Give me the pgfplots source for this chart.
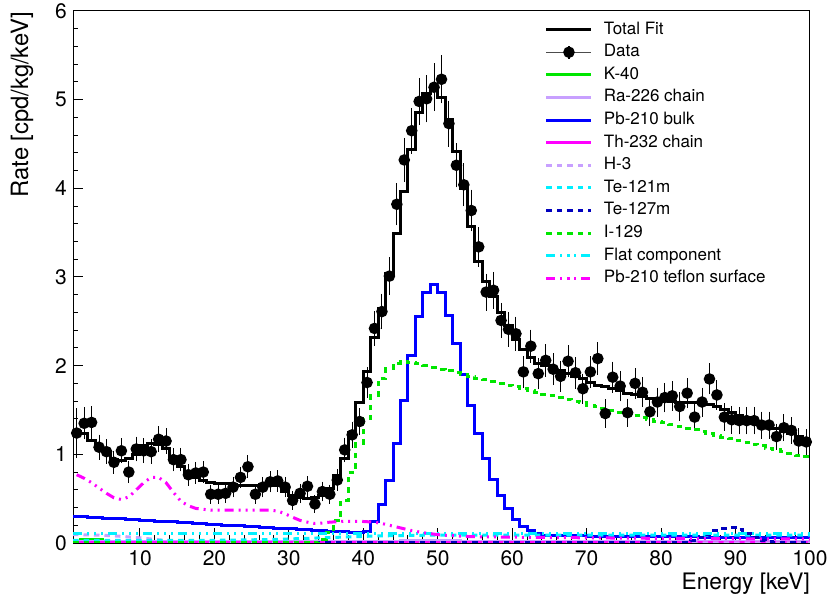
\documentclass[border=0pt]{standalone}
\usepackage{fontspec}
\setmainfont{TeX Gyre Heros}
\usepackage{pgfplots}
\usepackage{pgfplotstable}
\pgfplotsset{compat=1.18}
\definecolor{rgreen}{RGB}{0,230,0}
\definecolor{rlav}{RGB}{200,160,255}
\definecolor{rblue}{RGB}{0,0,255}
\definecolor{rnavy}{RGB}{0,0,190}
\definecolor{rmag}{RGB}{255,0,255}
\definecolor{rcyan}{RGB}{0,240,255}

\pgfplotstableread{
x y e
1.5 1.24 0.25
2.5 1.35 0.15
3.5 1.36 0.15
4.5 1.08 0.11
5.5 1.03 0.107
6.5 0.91 0.10
7.5 1.04 0.107
8.5 0.80 0.094
9.5 1.06 0.108
10.5 1.04 0.107
11.5 1.03 0.107
12.5 1.17 0.114
13.5 1.15 0.113
14.5 0.94 0.102
15.5 0.94 0.102
16.5 0.77 0.092
17.5 0.79 0.093
18.5 0.80 0.094
19.5 0.55 0.078
20.5 0.55 0.078
21.5 0.56 0.079
22.5 0.63 0.083
23.5 0.74 0.090
24.5 0.86 0.097
25.5 0.55 0.078
26.5 0.63 0.083
27.5 0.69 0.087
28.5 0.70 0.088
29.5 0.63 0.083
30.5 0.48 0.073
31.5 0.56 0.079
32.5 0.64 0.084
33.5 0.44 0.070
34.5 0.58 0.080
35.5 0.55 0.078
36.5 0.71 0.088
37.5 1.05 0.108
38.5 1.22 0.116
39.5 1.37 0.123
40.5 1.81 0.141
41.5 2.42 0.163
42.5 2.61 0.170
43.5 3.01 0.182
44.5 3.82 0.205
45.5 4.32 0.218
46.5 4.65 0.226
47.5 4.98 0.234
48.5 5.01 0.235
49.5 5.14 0.238
50.5 5.23 0.240
51.5 4.73 0.228
52.5 4.26 0.217
53.5 4.04 0.211
54.5 3.75 0.203
55.5 3.34 0.192
56.5 2.83 0.177
57.5 2.85 0.177
58.5 2.51 0.166
59.5 2.41 0.163
60.5 2.36 0.161
61.5 1.93 0.146
62.5 2.22 0.156
63.5 1.91 0.145
64.5 2.06 0.151
65.5 1.96 0.147
66.5 1.88 0.144
67.5 2.05 0.150
68.5 1.92 0.146
69.5 1.74 0.139
70.5 1.93 0.146
71.5 2.08 0.151
72.5 1.46 0.127
73.5 1.87 0.144
74.5 1.77 0.140
75.5 1.47 0.127
76.5 1.80 0.141
77.5 1.70 0.137
78.5 1.48 0.128
79.5 1.59 0.132
80.5 1.64 0.134
81.5 1.66 0.135
82.5 1.54 0.130
83.5 1.69 0.137
84.5 1.42 0.125
85.5 1.59 0.132
86.5 1.85 0.143
87.5 1.67 0.136
88.5 1.42 0.125
89.5 1.39 0.124
90.5 1.38 0.123
91.5 1.38 0.123
92.5 1.38 0.123
93.5 1.33 0.121
94.5 1.33 0.121
95.5 1.20 0.115
96.5 1.30 0.120
97.5 1.27 0.118
98.5 1.15 0.113
99.5 1.14 0.112
}\datatab

\pgfplotstableread{
x y
1 1.26
2 1.23
3 1.16
4 1.07
5 1.03
6 0.94
7 0.93
8 0.95
9 1.00
10 1.10
11 1.12
12 1.11
13 1.07
14 0.95
15 0.86
16 0.78
17 0.74
18 0.70
19 0.68
20 0.67
21 0.67
22 0.66
23 0.65
24 0.65
25 0.65
26 0.66
27 0.66
28 0.65
29 0.58
30 0.54
31 0.51
32 0.50
33 0.51
34 0.54
35 0.62
36 0.76
37 0.95
38 1.25
39 1.58
40 1.93
41 2.32
42 2.65
43 3.04
44 3.49
45 3.96
46 4.44
47 4.86
48 5.07
49 5.11
50 5.02
51 4.78
52 4.42
53 4.00
54 3.57
55 3.18
56 2.95
57 2.78
58 2.60
59 2.45
60 2.30
61 2.18
62 2.09
63 2.03
64 2.00
65 1.97
66 1.94
67 1.91
68 1.88
69 1.85
70 1.81
71 1.78
72 1.76
73 1.74
74 1.72
75 1.69
76 1.67
77 1.65
78 1.63
79 1.62
80 1.61
81 1.60
82 1.59
83 1.58
84 1.58
85 1.57
86 1.56
87 1.54
88 1.51
89 1.47
90 1.44
91 1.41
92 1.38
93 1.35
94 1.32
95 1.29
96 1.26
97 1.23
98 1.20
99 1.17
100 1.17
}\totaltab

\pgfplotstableread{
x y
1 0.300
2 0.295
3 0.290
4 0.285
5 0.281
6 0.276
7 0.271
8 0.266
9 0.261
10 0.256
11 0.251
12 0.246
13 0.242
14 0.237
15 0.232
16 0.227
17 0.222
18 0.217
19 0.212
20 0.207
21 0.203
22 0.198
23 0.193
24 0.188
25 0.183
26 0.178
27 0.173
28 0.168
29 0.164
30 0.159
31 0.154
32 0.149
33 0.144
34 0.139
35 0.134
36 0.129
37 0.125
38 0.120
39 0.118
40 0.13
41 0.24
42 0.43
43 0.71
44 1.12
45 1.61
46 2.12
47 2.55
48 2.82
49 2.92
50 2.82
51 2.57
52 2.25
53 1.90
54 1.55
55 1.23
56 0.95
57 0.72
58 0.54
59 0.39
60 0.27
61 0.19
62 0.14
63 0.11
64 0.090
65 0.085
66 0.082
67 0.080
70 0.077
75 0.074
80 0.070
85 0.067
90 0.064
95 0.062
100 0.060
}\pbbulktab

\pgfplotstableread{
x y
1 0
33 0.01
34 0.04
35 0.12
36 0.25
37 0.48
38 0.80
39 1.12
40 1.40
41 1.66
42 1.86
43 1.97
44 2.03
45 2.05
46 2.04
47 2.02
48 2.00
49 1.98
50 1.96
51 1.94
52 1.92
53 1.90
54 1.88
55 1.86
56 1.84
57 1.82
58 1.80
59 1.78
60 1.76
61 1.74
62 1.72
63 1.70
64 1.68
65 1.66
66 1.64
67 1.62
68 1.60
69 1.58
70 1.555
71 1.535
72 1.515
73 1.495
74 1.475
75 1.455
76 1.435
77 1.415
78 1.395
79 1.375
80 1.355
81 1.335
82 1.315
83 1.295
84 1.275
85 1.255
86 1.235
87 1.215
88 1.195
89 1.175
90 1.155
91 1.135
92 1.115
93 1.095
94 1.070
95 1.050
96 1.030
97 1.010
98 0.990
99 0.970
100 0.970
}\ionetab

\pgfplotstableread{
x y
1.5 0.77
2.5 0.73
3.5 0.68
4.5 0.62
5.5 0.56
6.5 0.51
7.5 0.49
8.5 0.52
9.5 0.60
10.5 0.68
11.5 0.74
12.5 0.74
13.5 0.68
14.5 0.57
15.5 0.47
16.5 0.42
17.5 0.39
18.5 0.38
19.5 0.37
22.5 0.37
25.5 0.37
27.5 0.37
28.5 0.36
29.5 0.33
30.5 0.29
31.5 0.255
32.5 0.235
33.5 0.22
34.5 0.225
35.5 0.235
36.5 0.24
37.5 0.245
39.5 0.245
40.5 0.24
41.5 0.235
42.5 0.22
43.5 0.20
44.5 0.18
45.5 0.16
46.5 0.14
47.5 0.125
48.5 0.11
49.5 0.10
50.5 0.09
51.5 0.085
52.5 0.08
53.5 0.075
54.5 0.072
55.5 0.07
60.5 0.065
70.5 0.058
80.5 0.052
90.5 0.048
100 0.045
}\teflontab

\pgfplotstableread{
x y
1 0.01
2 0.04
3 0.045
4 0.04
5 0.015
6 0.006
100 0.005
}\kfortytab

\pgfplotstableread{
x y
1 0.015
44 0.02
45 0.025
46 0.03
52 0.025
53 0.02
60 0.018
100 0.018
}\ratab

\pgfplotstableread{
x y
1 0.01
100 0.01
}\thtab

\pgfplotstableread{
x y
1 0.095
3.5 0.09
5.5 0.085
7.5 0.075
9.5 0.062
11.5 0.045
13.5 0.028
15.5 0.012
17.5 0.003
19.5 0
100 0
}\hthreetab

\pgfplotstableread{
x y
1 0.03
20 0.03
28 0.04
35 0.06
42 0.08
50 0.09
100 0.09
}\tetwotab

\pgfplotstableread{
x y
1 0.01
84 0.03
85 0.06
86 0.10
87 0.14
88 0.16
89 0.17
90 0.15
91 0.11
92 0.06
93 0.03
94 0.015
95 0.01
100 0.01
}\tesevtab

\pgfplotstableread{
x y
1 0.11
100 0.11
}\flattab

\pgfplotsset{datalegend/.style={legend image code/.code={%
    \draw[black!70, line width=1.2bp] (0bp,0bp) -- (45bp,0bp);
    \draw[black, line width=1.2bp] (22.5bp,-6.5bp) -- (22.5bp,6.5bp);
    \draw[##1] plot coordinates {(22.5bp,0bp)};}}}

\begin{document}
\begin{tikzpicture}
\begin{axis}[
  at={(73bp,56bp)}, anchor=south west,
  scale only axis, width=737bp, height=532bp,
  xmin=1, xmax=100, ymin=0, ymax=6,
  xtick={10,20,...,100}, ytick={0,1,...,6},
  minor x tick num=4, minor y tick num=4,
  xtick pos=left, ytick pos=left,
  tick align=inside,
  major tick length=15bp, minor tick length=7.5bp,
  ytick style={/pgfplots/major tick length=10.5bp, /pgfplots/minor tick length=5.5bp},
  every tick/.style={black, line width=1bp},
  axis line style={line width=1bp},
  /pgf/number format/assume math mode=true,
  tick label style={font=\fontsize{21bp}{21bp}\selectfont},
  xticklabel style={anchor=north, inner sep=0pt, yshift=-7bp},
  yticklabel style={anchor=east, inner sep=0pt, xshift=-6bp},
  xlabel={Energy [keV]},
  ylabel={Rate [cpd/kg/keV]},
  x label style={at={(axis description cs:1,0)}, anchor=base east, inner sep=0pt, yshift=-46bp, font=\fontsize{22.7bp}{24bp}\selectfont},
  y label style={at={(axis description cs:0,1)}, anchor=east, inner sep=0pt, xshift=-1bp, yshift=51bp, font=\fontsize{23.8bp}{25bp}\selectfont},
  legend cell align=left,
  legend style={draw=none, fill=none, inner sep=0pt, outer sep=0pt,
    at={(axis description cs:0.6404,0.98)}, anchor=north west,
    font=\fontsize{17bp}{17bp}\selectfont, row sep=6.6bp,
    nodes={inner sep=0pt, text height=12.5bp, text depth=3.5bp},
    /tikz/every odd column/.append style={column sep=11bp}},
  legend image code/.code={\draw[mark repeat=2,mark phase=2,#1] plot coordinates {(0bp,0bp) (22.5bp,0bp) (45bp,0bp)};},
  every axis plot/.append style={line width=3bp},
]
\addplot[black, const plot mark left] table[x=x,y=y] {\totaltab};
\addlegendentry{Total Fit}
\addplot[black, only marks, mark=*, mark size=4.2bp, datalegend,
  error bars/.cd, y dir=both, y explicit,
  error bar style={line width=1bp, black},
  error mark options={line width=1bp, mark size=2.8bp, black},
  ] table[x=x,y=y,y error=e] {\datatab};
\addlegendentry{Data}
\addplot[rgreen, const plot mark left] table[x=x,y=y] {\kfortytab};
\addlegendentry{K-40}
\addplot[rlav, const plot mark left] table[x=x,y=y] {\ratab};
\addlegendentry{Ra-226 chain}
\addplot[rblue, const plot mark left] table[x=x,y=y] {\pbbulktab};
\addlegendentry{Pb-210 bulk}
\addplot[rmag, const plot mark left] table[x=x,y=y] {\thtab};
\addlegendentry{Th-232 chain}
\addplot[rlav, dash pattern=on 5.5bp off 5bp] table[x=x,y=y] {\hthreetab};
\addlegendentry{H-3}
\addplot[rcyan, dash pattern=on 5.5bp off 5bp] table[x=x,y=y] {\tetwotab};
\addlegendentry{Te-121m}
\addplot[rnavy, dash pattern=on 5.5bp off 5bp, const plot mark left] table[x=x,y=y] {\tesevtab};
\addlegendentry{Te-127m}
\addplot[rgreen, dash pattern=on 5.5bp off 5bp, const plot mark left] table[x=x,y=y] {\ionetab};
\addlegendentry{I-129}
\addplot[rcyan, dash pattern=on 9bp off 5bp on 2bp off 5bp on 2bp off 5bp on 2bp off 5bp] table[x=x,y=y] {\flattab};
\addlegendentry{Flat component}
\addplot[rmag, dash pattern=on 9bp off 5bp on 2bp off 5bp on 2bp off 5bp on 2bp off 5bp] table[x=x,y=y] {\teflontab};
\addlegendentry{Pb-210 teflon surface}
\end{axis}
\pgfresetboundingbox
\path[use as bounding box] (0bp,0bp) rectangle (831bp,599bp);
\end{tikzpicture}
\end{document}
